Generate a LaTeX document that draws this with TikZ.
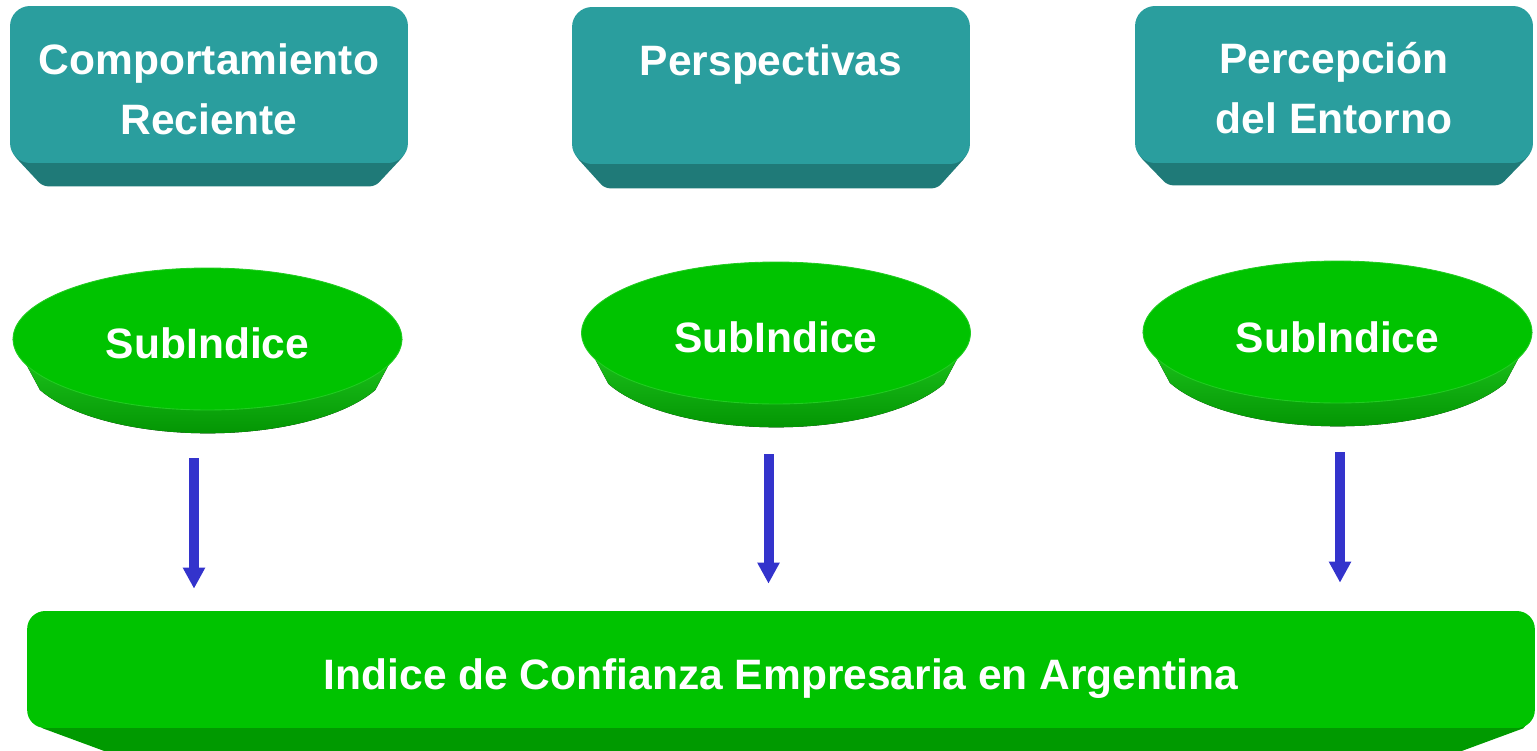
\documentclass[tikz,border=0pt]{standalone}
\usepackage{fontspec}
\setmainfont{Liberation Sans}
\usetikzlibrary{arrows.meta,calc,backgrounds,shapes.geometric}
\definecolor{tealface}{HTML}{2A9E9E}
\definecolor{tealbevel}{HTML}{1F7A78}
\definecolor{greenface}{HTML}{00C300}
\definecolor{greenbevel}{HTML}{009A00}
\definecolor{greenlight}{HTML}{22CC22}
\definecolor{greendark}{HTML}{009000}
\definecolor{arrowblue}{HTML}{3333CC}
\begin{document}
\begin{tikzpicture}[x=0.02cm,y=-0.02cm,
  txt/.style={text=white,font=\bfseries\fontsize{24.2pt}{34.7pt}\selectfont},
  topbox/.style={txt, fill=tealface, rounded corners=0.4cm, inner sep=0pt,
    minimum width=7.96cm, minimum height=3.14cm},
  sub/.style={txt, ellipse, fill=greenface, draw=greenlight, line width=0.5pt, inner sep=0pt,
    minimum width=7.78cm, minimum height=2.84cm, text height=0.8cm, text depth=0pt},
  barbox/.style={txt, fill=greenface, rounded corners=0.36cm, inner sep=0pt,
    minimum width=30.16cm, minimum height=2.34cm, text height=0.78cm, text depth=0pt},
  arr/.style={draw=arrowblue, line width=0.2cm, -{Triangle[width=0.42cm,length=0.42cm]}}
]
\useasboundingbox (0,0) rectangle (1537,750);

% top boxes
\node[topbox] (b1) at (209,84.5)
  {\parbox[c][3.14cm][t]{7.96cm}{\centering\rule{0pt}{1.36cm}Comportamiento\\Reciente}};
\node[topbox] (b2) at (771,85.5)
  {\parbox[c][3.14cm][t]{7.96cm}{\centering\rule{0pt}{1.36cm}Perspectivas}};
\node[topbox] (b3) at (1334,84.5)
  {\parbox[c][3.14cm][t]{7.96cm}{\centering\rule{0pt}{1.34cm}Percepción\\del Entorno}};

% sub-index ellipses
\node[sub] (s1) at (207.5,339) {SubIndice};
\node[sub] (s2) at (776,333) {SubIndice};
\node[sub] (s3) at (1337.5,332) {SubIndice};

% bottom bar
\node[barbox] (bar) at (781,669.5) {Indice de Confianza Empresaria en Argentina};

% bevels
\begin{pgfonlayer}{background}
  \foreach \n/\d in {b1/23,b2/24,b3/22}{
    \fill[tealbevel, rounded corners=3pt]
      ($(\n.south west)+(0,-22)$) -- ($(\n.south west)+(4,-8)$) --
      ($(\n.south west)+(33,\d)$) -- ($(\n.south east)+(-33,\d)$) --
      ($(\n.south east)+(-4,-8)$) -- ($(\n.south east)+(0,-22)$) -- cycle;
  }
  \foreach \n in {s1,s2,s3}{
    \fill[top color=greenlight, bottom color=greendark]
      (\n.west) -- ($(\n.center)+(-167.5,51)$)
      arc[start angle=205, end angle=335, x radius=3.7cm, y radius=1.5cm]
      -- (\n.east) -- cycle;
  }
  \fill[greenbevel]
    ($(bar.south west)+(2,-12)$) -- ($(bar.south west)+(16,0)$) --
    ($(bar.south west)+(92,28)$) -- ($(bar.south east)+(-88,28)$) --
    ($(bar.south east)+(-12,0)$) -- ($(bar.south east)+(-2,-12)$) -- cycle;
\end{pgfonlayer}

% arrows
\coordinate (x1) at (194,0);
\coordinate (x2) at (768.5,0);
\coordinate (x3) at (1340,0);
\draw[arr, shorten <=0.96cm, shorten >=0.44cm] (s1.south -| x1) -- (bar.north -| x1);
\draw[arr, shorten <=1.0cm, shorten >=0.54cm] (s2.south -| x2) -- (bar.north -| x2);
\draw[arr, shorten <=0.98cm, shorten >=0.56cm] (s3.south -| x3) -- (bar.north -| x3);
\end{tikzpicture}
\end{document}
